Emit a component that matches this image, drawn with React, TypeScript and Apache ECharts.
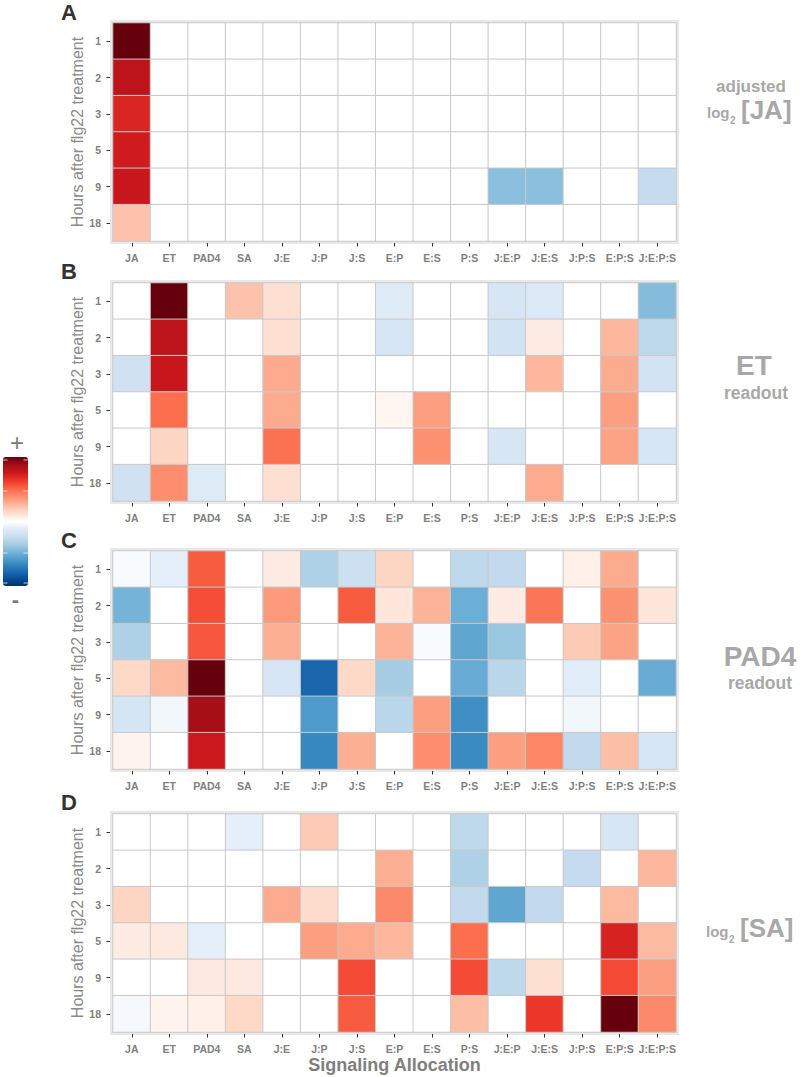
import React, { useEffect, useRef } from 'react';
import * as echarts from 'echarts';

// ---------- data ----------
const categories = ['JA', 'ET', 'PAD4', 'SA', 'J:E', 'J:P', 'J:S', 'E:P', 'E:S', 'P:S', 'J:E:P', 'J:E:S', 'J:P:S', 'E:P:S', 'J:E:P:S'];
const hours = ['1', '2', '3', '5', '9', '18'];

// values on a symmetric scale, -8 (deep blue) .. 0 (white) .. +8 (deep red)
const jaValues = [
  [8, 0, 0, 0, 0, 0, 0, 0, 0, 0, 0, 0, 0, 0, 0],
  [6.4, 0, 0, 0, 0, 0, 0, 0, 0, 0, 0, 0, 0, 0, 0],
  [5.6, 0, 0, 0, 0, 0, 0, 0, 0, 0, 0, 0, 0, 0, 0],
  [5.9, 0, 0, 0, 0, 0, 0, 0, 0, 0, 0, 0, 0, 0, 0],
  [6.1, 0, 0, 0, 0, 0, 0, 0, 0, 0, -3.4, -3.4, 0, 0, -2],
  [1.8, 0, 0, 0, 0, 0, 0, 0, 0, 0, 0, 0, 0, 0, 0],
];
const etValues = [
  [0, 8, 0, 1.8, 1, 0, 0, -1, 0, 0, -1.3, -1.1, 0, 0, -3.5],
  [0, 6.4, 0, 0, 1, 0, 0, -1.3, 0, 0, -1.5, 0.6, 0, 2.1, -2.2],
  [-1.6, 6.1, 0, 0, 2.4, 0, 0, 0, 0, 0, 0, 2.1, 0, 2.4, -1.5],
  [0, 3.9, 0, 0, 2.4, 0, 0, 0.3, 2.7, 0, 0, 0, 0, 2.7, 0],
  [0, 1.3, 0, 0, 3.8, 0, 0, 0, 3, 0, -1.3, 0, 0, 2.6, -1.3],
  [-1.6, 3.1, -1, 0, 1, 0, 0, 0, 0, 0, 0, 2.4, 0, 0, 0],
];
const pad4Values = [
  [-0.2, -0.8, 4.3, 0, 0.6, -2.6, -1.7, 1.3, 0, -2.2, -2.1, 0, 0.5, 2.4, 0],
  [-3.8, 0, 4.6, 0, 2.8, 0, 4.3, 0.8, 2.2, -4, 0.6, 3.7, 0, 3, 0.8],
  [-2.6, 0, 4.4, 0, 2.3, 0, 0, 2.2, -0.2, -4.3, -3.1, 0, 1.6, 2.6, 0],
  [1.2, 2, 8, 0, -1.3, -6.3, 1.2, -2.8, 0, -4.1, -2.3, 0, -0.9, 0, -4.1],
  [-1.4, -0.4, 7, 0, 0, -4.7, 0, -2.3, 2.7, -5.1, 0, 0, -0.4, 0, 0],
  [0.4, 0, 6, 0, 0, -5.3, 2.3, 0, 3.1, -5.2, 2.7, 3.3, -2.1, 1.9, -1.3],
];
const saValues = [
  [0, 0, 0, -0.8, 0, 1.6, 0, 0, 0, -2.2, 0, 0, 0, -1.3, 0],
  [0, 0, 0, 0, 0, 0, 0, 2.3, 0, -2.6, 0, 0, -2, 0, 2.1],
  [1.3, 0, 0, 0, 2.4, 1.1, 0, 3.2, 0, -2.1, -4.3, -2.1, 0, 2, 0],
  [0.6, 0.7, -0.8, 0, 0, 2.7, 2.4, 2.1, 0, 3.9, 0, 0, 0, 5.7, 2],
  [0, 0, 0.7, 0.7, 0, 0, 4.7, 0, 0, 4.7, -2.2, 1, 0, 4.7, 2.7],
  [-0.3, 0.4, 0.5, 1.2, 0, 0, 4.3, 0, 0, 1.9, 0, 5.1, 0, 8, 3.2],
];
const panelValues = [jaValues, etValues, pad4Values, saValues];
const panelLetters = ['A', 'B', 'C', 'D'];
const yTitle = 'Hours after flg22 treatment';
const xTitle = 'Signaling Allocation';

// ---------- layout ----------
const FONT = '"Liberation Sans", Arial, Helvetica, sans-serif';
const GRID_LEFT = 113;
const GRID_WIDTH = 563;
const GRID_HEIGHT = 218;
const gridTops = [23, 283, 551, 814];
const letterY = [12.5, 271, 540, 802];

const palette = [
  '#08306b', '#08519c', '#2171b5', '#4292c6', '#6baed6', '#9ecae1', '#c6dbef', '#deebf7',
  '#ffffff',
  '#fee0d2', '#fcbba1', '#fc9272', '#fb6a4a', '#ef3b2c', '#cb181d', '#a50f15', '#67000d',
];

function buildOption() {
  const grids: any[] = [];
  const xAxes: any[] = [];
  const yAxes: any[] = [];
  const series: any[] = [];
  const graphics: any[] = [];

  panelValues.forEach((vals, p) => {
    const top = gridTops[p];
    grids.push({ left: GRID_LEFT, top, width: GRID_WIDTH, height: GRID_HEIGHT, containLabel: false });
    xAxes.push({
      type: 'category',
      gridIndex: p,
      data: categories,
      offset: 2,
      axisLine: { show: false },
      axisTick: { show: true, alignWithLabel: true, length: 3.5, interval: 0, lineStyle: { color: '#333', width: 1 } },
      axisLabel: { interval: 0, margin: 9, color: '#808080', fontWeight: 'bold', fontSize: 10.5, fontFamily: FONT },
      splitLine: { show: false },
      name: p === 3 ? xTitle : '',
      nameLocation: 'middle',
      nameGap: 22,
      nameMoveOverlap: false,
      nameTextStyle: { color: '#7f7f7f', fontWeight: 'bold', fontSize: 18, fontFamily: FONT },
    });
    yAxes.push({
      type: 'category',
      gridIndex: p,
      data: hours,
      inverse: true,
      offset: 3,
      axisLine: { show: false },
      axisTick: { show: true, alignWithLabel: true, length: 3.5, interval: 0, lineStyle: { color: '#333', width: 1 } },
      axisLabel: { interval: 0, margin: 9, color: '#808080', fontWeight: 'bold', fontSize: 10.5, fontFamily: FONT },
      splitLine: { show: false },
      name: yTitle,
      nameLocation: 'middle',
      nameRotate: 90,
      nameGap: 25,
      nameMoveOverlap: false,
      nameTextStyle: { color: '#8a8a8a', fontSize: 16, fontFamily: FONT },
    });
    const data: any[] = [];
    vals.forEach((row, r) => row.forEach((v, c) => data.push([c, r, v])));
    series.push({
      type: 'heatmap',
      xAxisIndex: p,
      yAxisIndex: p,
      data,
      itemStyle: { borderColor: '#c9c9c9', borderWidth: 1 },
      emphasis: { disabled: true },
    });
    // grey panel background
    graphics.push({
      type: 'rect',
      z: -10,
      shape: { x: GRID_LEFT - 3, y: top - 3, width: GRID_WIDTH + 6, height: GRID_HEIGHT + 6 },
      style: { fill: '#e8e8e8' },
    });
    graphics.push({
      type: 'text',
      x: 69,
      y: letterY[p],
      style: { text: panelLetters[p], fill: '#333', font: `bold 22px ${FONT}`, align: 'center', verticalAlign: 'middle' },
    });
  });

  const labelFill = '#a8a8a8';
  graphics.push(
    // Panel A
    { type: 'text', x: 751, y: 86.5, style: { text: 'adjusted', fill: labelFill, font: `bold 17px ${FONT}`, align: 'center', verticalAlign: 'middle' } },
    { type: 'text', x: 707, y: 112.7, style: { text: 'log', fill: labelFill, font: `bold 15px ${FONT}`, align: 'left', verticalAlign: 'middle' } },
    { type: 'text', x: 730, y: 120.5, style: { text: '2', fill: labelFill, font: `bold 10px ${FONT}`, align: 'left', verticalAlign: 'middle' } },
    { type: 'text', x: 741, y: 109.5, style: { text: '[JA]', fill: labelFill, font: `bold 26px ${FONT}`, align: 'left', verticalAlign: 'middle' } },
    // Panel B
    { type: 'text', x: 754, y: 365, style: { text: 'ET', fill: labelFill, font: `bold 28px ${FONT}`, align: 'center', verticalAlign: 'middle' } },
    { type: 'text', x: 756, y: 393, style: { text: 'readout', fill: labelFill, font: `bold 17.5px ${FONT}`, align: 'center', verticalAlign: 'middle' } },
    // Panel C
    { type: 'text', x: 760, y: 656, style: { text: 'PAD4', fill: labelFill, font: `bold 28px ${FONT}`, align: 'center', verticalAlign: 'middle' } },
    { type: 'text', x: 760, y: 683, style: { text: 'readout', fill: labelFill, font: `bold 17.5px ${FONT}`, align: 'center', verticalAlign: 'middle' } },
    // Panel D
    { type: 'text', x: 706, y: 931.7, style: { text: 'log', fill: labelFill, font: `bold 15px ${FONT}`, align: 'left', verticalAlign: 'middle' } },
    { type: 'text', x: 729, y: 939.5, style: { text: '2', fill: labelFill, font: `bold 10px ${FONT}`, align: 'left', verticalAlign: 'middle' } },
    { type: 'text', x: 740, y: 928, style: { text: '[SA]', fill: labelFill, font: `bold 26px ${FONT}`, align: 'left', verticalAlign: 'middle' } },
    // legend ends
    { type: 'text', x: 17, y: 442, style: { text: '+', fill: '#7a7a7a', font: `24px ${FONT}`, align: 'center', verticalAlign: 'middle' } },
    { type: 'text', x: 15.5, y: 599, style: { text: '-', fill: '#7a7a7a', font: `bold 22px ${FONT}`, align: 'center', verticalAlign: 'middle' } },
  );
  // small white ticks on the colour bar
  [460, 491, 553, 583].forEach((y) => {
    graphics.push(
      { type: 'line', z: 100, shape: { x1: 3, y1: y, x2: 7.5, y2: y }, style: { stroke: 'rgba(255,255,255,0.7)', lineWidth: 1 } },
      { type: 'line', z: 100, shape: { x1: 23.5, y1: y, x2: 28, y2: y }, style: { stroke: 'rgba(255,255,255,0.7)', lineWidth: 1 } },
    );
  });

  return {
    animation: false,
    backgroundColor: '#ffffff',
    textStyle: { fontFamily: FONT },
    grid: grids,
    xAxis: xAxes,
    yAxis: yAxes,
    visualMap: {
      type: 'continuous',
      min: -8,
      max: 8,
      seriesIndex: [0, 1, 2, 3],
      calculable: false,
      orient: 'vertical',
      left: 3,
      top: 457,
      padding: 0,
      itemWidth: 25,
      itemHeight: 129,
      text: null,
      showLabel: false,
      inRange: { color: palette },
      hoverLink: false,
    },
    graphic: { elements: graphics },
    series,
  };
}

export default function App() {
  const ref = useRef<HTMLDivElement>(null);
  useEffect(() => {
    document.body.style.margin = '0';
    if (!ref.current) return;
    const chart = echarts.init(ref.current, null, { renderer: 'svg' });
    chart.setOption(buildOption() as any);
    return () => chart.dispose();
  }, []);
  return <div ref={ref} style={{ width: 800, height: 1077 }} />;
}
